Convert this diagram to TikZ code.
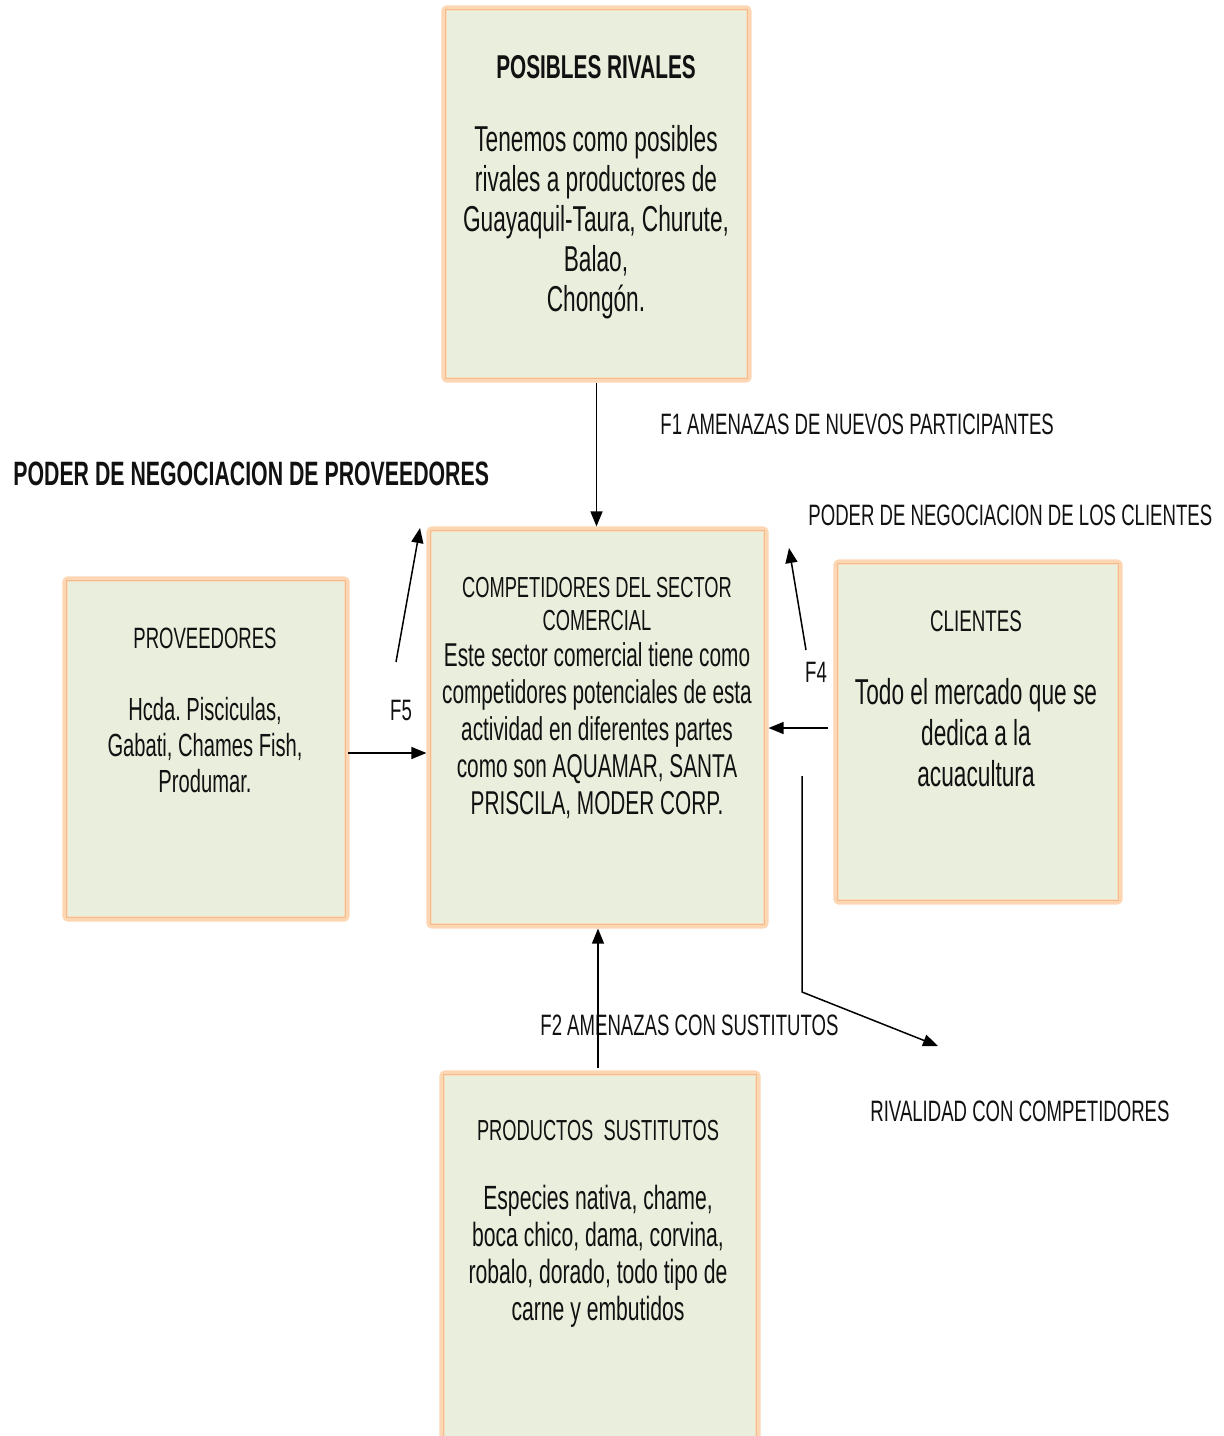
\documentclass[tikz,border=0pt]{standalone}
\usepackage{fontspec}
\setmainfont[FakeStretch=0.63]{Liberation Sans}
\usetikzlibrary{arrows.meta,fit}
\definecolor{boxfill}{HTML}{EAEEDC}
\definecolor{peach}{HTML}{FDD7B4}
\definecolor{peachdark}{HTML}{F5BB8C}
\definecolor{ink}{HTML}{111111}
\tikzset{
  box/.style={draw=peach, line width=2.6pt, fill=boxfill, inner sep=0pt, rounded corners=1.5pt},
  innerline/.style={draw=peachdark, line width=0.6pt},
  txt/.style={inner sep=0pt, align=center, text=ink},
  lbl/.style={inner sep=0pt, anchor=west, text=ink, font=\fontsize{14.75}{16}\selectfont},
  arr/.style={draw=black, line width=0.75pt, -{Triangle[length=7.5pt,width=6pt]}},
  plain/.style={draw=black, line width=0.75pt}
}
\newcommand{\insetbox}[1]{\draw[innerline] ([xshift=2pt,yshift=2pt]#1.south west) rectangle ([xshift=-2pt,yshift=-2pt]#1.north east);}
\begin{document}
\frenchspacing
\begin{tikzpicture}[x=0.5pt,y=-0.5pt]
\useasboundingbox (0,0) rectangle (1223,1436);
\clip (0,0) rectangle (1223,1436);
\fill[white] (0,0) rectangle (1223,1436);

% boxes
\node[box, fit={(444,8) (749,380)}] (rival) {};
\insetbox{rival}
\node[box, fit={(429,529) (766,926)}] (comp) {};
\insetbox{comp}
\node[box, fit={(65,579) (347,919)}] (prov) {};
\insetbox{prov}
\node[box, fit={(836,562) (1120,902)}] (cli) {};
\insetbox{cli}
\node[box, fit={(442,1073) (758,1470)}] (prod) {};
\insetbox{prod}

% box texts
\node[txt, font=\bfseries\fontsize{16.5}{18}\selectfont] (rivalT) at (596,67) {POSIBLES RIVALES};
\node[txt, font=\fontsize{18}{20}\selectfont] (rivalB) at (596,222) {Tenemos como posibles\\rivales a productores de\\Guayaquil-Taura, Churute,\\Balao,\\Chongón.};

\node[txt, font=\fontsize{14.5}{16.5}\selectfont] (compT) at (597,604) {COMPETIDORES DEL SECTOR\\COMERCIAL};
\node[txt, font=\fontsize{16.5}{18.5}\selectfont] (compB) at (597,731) {Este sector comercial tiene como\\competidores potenciales de esta\\actividad en diferentes partes\\como son AQUAMAR, SANTA\\PRISCILA, MODER CORP.};

\node[txt, font=\fontsize{14.7}{16}\selectfont] (provT) at (205,638) {PROVEEDORES};
\node[txt, font=\fontsize{16}{18}\selectfont] (provB) at (205,745) {Hcda. Pisciculas,\\Gabati, Chames Fish,\\Produmar.};

\node[txt, font=\fontsize{14.9}{16}\selectfont] (cliT) at (976,621) {CLIENTES};
\node[txt, font=\fontsize{18}{20.5}\selectfont] (cliB) at (976,733) {Todo el mercado que se\\dedica a la\\acuacultura};

\node[txt, font=\fontsize{14.5}{16}\selectfont] (prodT) at (598,1131) {PRODUCTOS\ \ SUSTITUTOS};
\node[txt, font=\fontsize{16.8}{18.5}\selectfont] (prodB) at (598,1256) {Especies nativa, chame,\\boca chico, dama, corvina,\\robalo, dorado, todo tipo de\\carne y embutidos};

% labels
\node[lbl] (f1) at (660,424) {F1 AMENAZAS DE NUEVOS PARTICIPANTES};
\node[lbl, font=\bfseries\fontsize{16.9}{18}\selectfont] (ppro) at (13,474) {PODER DE NEGOCIACION DE PROVEEDORES};
\node[lbl] (pcli) at (808,515) {PODER DE NEGOCIACION DE LOS CLIENTES};
\node[lbl, anchor=center] (f5) at (401,710) {F5};
\node[lbl, anchor=center] (f4) at (816,672) {F4};
\node[lbl] (f2) at (540,1025) {F2 AMENAZAS CON SUSTITUTOS};
\node[lbl] (riv) at (870,1111) {RIVALIDAD CON COMPETIDORES};

% connector coordinates
\coordinate (f5a) at (396,662);
\coordinate (f5b) at (420,528);
\coordinate (f4a) at (806,650);
\coordinate (f4b) at (789,548);
\coordinate (clia) at (828,728);
\coordinate (prova) at (348,753);
\coordinate (rva) at (802,776);
\coordinate (rvb) at (802,992);
\coordinate (rvc) at (938,1046);
\coordinate (proda) at (598,1068);

% connectors
\draw[arr] (rival.south) -- (rival.south |- comp.north);
\draw[arr] (f5a) -- (f5b);
\draw[arr] (prova) -- (prova -| comp.west);
\draw[arr] (f4a) -- (f4b);
\draw[arr] (clia) -- (clia -| comp.east);
\draw[arr] (rva) -- (rvb) -- (rvc);
\draw[arr] (proda) -- (proda |- comp.south);
\end{tikzpicture}
\end{document}
